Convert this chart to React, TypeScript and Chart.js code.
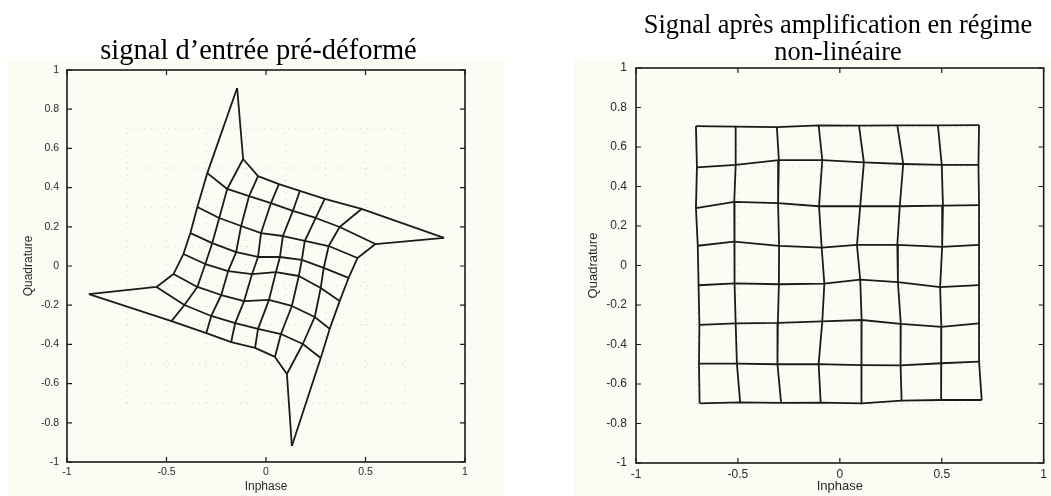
import { useEffect, useRef } from "react";
import { Chart, registerables } from "chart.js";

Chart.register(...registerables);

// Levels of the ideal 8x8 constellation grid (I and Q)
const idealLevels = [-0.7, -0.5, -0.3, -0.1, 0.1, 0.3, 0.5, 0.7];

// Pre-distorted input grid, node [row][col]: row 0 is Q = 0.7, col 0 is I = -0.7
const preDistI = [
  [-0.145, -0.115, -0.04, 0.065, 0.17, 0.295, 0.48, 0.895],
  [-0.295, -0.195, -0.085, 0.025, 0.135, 0.25, 0.37, 0.55],
  [-0.345, -0.235, -0.125, -0.025, 0.085, 0.195, 0.315, 0.46],
  [-0.38, -0.27, -0.15, -0.04, 0.07, 0.18, 0.29, 0.415],
  [-0.415, -0.305, -0.19, -0.07, 0.05, 0.165, 0.275, 0.37],
  [-0.465, -0.345, -0.225, -0.11, 0.015, 0.13, 0.245, 0.32],
  [-0.55, -0.41, -0.275, -0.155, -0.04, 0.075, 0.185, 0.275],
  [-0.89, -0.475, -0.3, -0.175, -0.055, 0.045, 0.105, 0.13],
];
const preDistQ = [
  [0.908, 0.546, 0.459, 0.418, 0.383, 0.342, 0.291, 0.143],
  [0.474, 0.393, 0.357, 0.321, 0.281, 0.245, 0.199, 0.112],
  [0.301, 0.245, 0.204, 0.168, 0.153, 0.128, 0.102, 0.041],
  [0.168, 0.117, 0.071, 0.046, 0.046, 0.031, -0.01, -0.061],
  [0.061, 0.01, -0.026, -0.041, -0.031, -0.051, -0.112, -0.179],
  [-0.041, -0.107, -0.148, -0.179, -0.173, -0.204, -0.26, -0.321],
  [-0.107, -0.199, -0.255, -0.291, -0.321, -0.347, -0.398, -0.469],
  [-0.143, -0.281, -0.342, -0.388, -0.418, -0.464, -0.551, -0.918],
];

// Grid measured at the amplifier output (non-linear regime)
const ampI = [
  [-0.706, -0.511, -0.309, -0.104, 0.094, 0.282, 0.481, 0.683],
  [-0.701, -0.511, -0.299, -0.086, 0.118, 0.311, 0.5, 0.68],
  [-0.706, -0.518, -0.303, -0.102, 0.1, 0.294, 0.506, 0.683],
  [-0.697, -0.518, -0.298, -0.089, 0.084, 0.282, 0.502, 0.683],
  [-0.693, -0.515, -0.299, -0.076, 0.1, 0.285, 0.492, 0.683],
  [-0.689, -0.511, -0.304, -0.086, 0.107, 0.299, 0.498, 0.683],
  [-0.691, -0.505, -0.306, -0.104, 0.104, 0.298, 0.497, 0.683],
  [-0.688, -0.489, -0.288, -0.094, 0.108, 0.303, 0.497, 0.696],
];
const ampQ = [
  [0.706, 0.703, 0.701, 0.71, 0.708, 0.71, 0.71, 0.711],
  [0.497, 0.509, 0.534, 0.534, 0.522, 0.514, 0.509, 0.509],
  [0.291, 0.322, 0.316, 0.3, 0.3, 0.3, 0.303, 0.306],
  [0.1, 0.121, 0.099, 0.09, 0.104, 0.104, 0.094, 0.104],
  [-0.1, -0.09, -0.095, -0.092, -0.072, -0.084, -0.109, -0.099],
  [-0.301, -0.293, -0.291, -0.283, -0.276, -0.296, -0.311, -0.293],
  [-0.497, -0.497, -0.5, -0.499, -0.504, -0.506, -0.495, -0.487],
  [-0.698, -0.693, -0.696, -0.694, -0.698, -0.684, -0.681, -0.681],
];

const INK = "#1b1b1b";
const LABEL = "#2a2a2a";

type Pt = { x: number; y: number };

function solidLine(data: Pt[]) {
  return {
    data,
    showLine: true,
    borderColor: INK,
    borderWidth: 1.8,
    pointRadius: 0,
    fill: false,
    order: 1,
  };
}

function dottedLine(data: Pt[]) {
  return {
    data,
    showLine: true,
    borderColor: "rgba(0,0,0,0.18)",
    borderWidth: 1,
    borderDash: [1, 5],
    pointRadius: 0,
    fill: false,
    order: 2,
  };
}

// Rows and columns of a mesh, plus the faint dotted reference grid underneath
function meshDatasets(I: number[][], Q: number[][]) {
  const sets: any[] = [];
  const lo = idealLevels[0];
  const hi = idealLevels[idealLevels.length - 1];
  idealLevels.forEach((v) => {
    sets.push(dottedLine([{ x: lo, y: v }, { x: hi, y: v }]));
    sets.push(dottedLine([{ x: v, y: lo }, { x: v, y: hi }]));
  });
  for (let r = 0; r < I.length; r++) {
    sets.push(solidLine(I[r].map((x, c) => ({ x, y: Q[r][c] }))));
  }
  for (let c = 0; c < I[0].length; c++) {
    sets.push(solidLine(I.map((row, r) => ({ x: row[c], y: Q[r][c] }))));
  }
  return sets;
}

// Box around the plot area with inward tick marks on all four sides
const boxFrame = {
  id: "boxFrame",
  afterDatasetsDraw(chart: any) {
    const { ctx, chartArea, scales } = chart;
    const { left, right, top, bottom } = chartArea;
    const len = 5;
    ctx.save();
    ctx.strokeStyle = INK;
    ctx.lineWidth = 1.6;
    ctx.strokeRect(left, top, right - left, bottom - top);
    ctx.lineWidth = 1.2;
    ctx.beginPath();
    scales.x.ticks.forEach((t: any) => {
      const px = scales.x.getPixelForValue(t.value);
      ctx.moveTo(px, bottom);
      ctx.lineTo(px, bottom - len);
      ctx.moveTo(px, top);
      ctx.lineTo(px, top + len);
    });
    scales.y.ticks.forEach((t: any) => {
      const py = scales.y.getPixelForValue(t.value);
      ctx.moveTo(left, py);
      ctx.lineTo(left + len, py);
      ctx.moveTo(right, py);
      ctx.lineTo(right - len, py);
    });
    ctx.stroke();
    ctx.restore();
  },
};

// Plain numbers: 1, 0.8, 0, -0.5 ...
const plainTick = (v: number | string) => String(Math.round(Number(v) * 100) / 100);

type PanelProps = {
  I: number[][];
  Q: number[][];
  width: number;
  height: number;
  padding: { top: number; right: number; bottom: number; left: number };
  yAxisWidth: number;
  xAxisHeight: number;
  tickSize: number;
  titleSize: number;
  yTitleOffset: number;
  yTickPad: number;
};

function MeshPanel(p: PanelProps) {
  const ref = useRef<HTMLCanvasElement | null>(null);
  useEffect(() => {
    if (!ref.current) return;
    const tickFont = { family: "'Liberation Sans', Arial, sans-serif", size: p.tickSize };
    const titleFont = { family: "'Liberation Sans', Arial, sans-serif", size: p.titleSize };
    const chart = new Chart(ref.current, {
      type: "scatter",
      data: { datasets: meshDatasets(p.I, p.Q) },
      options: {
        animation: false,
        responsive: false,
        devicePixelRatio: 1,
        layout: { padding: p.padding },
        plugins: { legend: { display: false }, tooltip: { enabled: false } },
        elements: { line: { tension: 0, borderJoinStyle: "round" as const } },
        scales: {
          x: {
            type: "linear",
            min: -1,
            max: 1,
            ticks: { stepSize: 0.5, font: tickFont, color: LABEL, padding: 4, maxRotation: 0, callback: plainTick },
            grid: { display: false, drawTicks: false },
            border: { display: false },
            title: { display: true, text: "Inphase", font: titleFont, color: LABEL, padding: { top: 0, bottom: 2 } },
            afterFit: (s: any) => {
              s.height = p.xAxisHeight;
            },
          },
          y: {
            type: "linear",
            min: -1,
            max: 1,
            ticks: { stepSize: 0.2, font: tickFont, color: LABEL, padding: p.yTickPad, callback: plainTick },
            grid: { display: false, drawTicks: false },
            border: { display: false },
            title: { display: true, text: "Quadrature", font: titleFont, color: LABEL, padding: { top: p.yTitleOffset, bottom: 0 } },
            afterFit: (s: any) => {
              s.width = p.yAxisWidth;
            },
          },
        },
      },
      plugins: [boxFrame],
    } as any);
    return () => chart.destroy();
  }, []);
  return <canvas ref={ref} width={p.width} height={p.height} style={{ display: "block", width: p.width, height: p.height }} />;
}

const serifTitle: React.CSSProperties = {
  position: "absolute",
  fontFamily: "'Liberation Serif', 'Times New Roman', serif",
  color: "#000",
  textAlign: "center",
  whiteSpace: "nowrap",
};

export default function App() {
  return (
    <div style={{ position: "absolute", left: 0, top: 0, width: 1051, height: 496, background: "#fff", overflow: "hidden" }}>
      <div style={{ position: "absolute", left: 7, top: 58, width: 496, height: 438, background: "#fcfcf5" }} />
      <div style={{ position: "absolute", left: 574, top: 58, width: 477, height: 438, background: "#fcfcf5" }} />
      <div style={{ position: "absolute", left: 0, top: 0 }}>
        <MeshPanel
          I={preDistI}
          Q={preDistQ}
          width={525}
          height={496}
          padding={{ top: 70, right: 60, bottom: 0, left: 0 }}
          yAxisWidth={67}
          xAxisHeight={34}
          tickSize={10.5}
          titleSize={12}
          yTitleOffset={21}
          yTickPad={8}
        />
      </div>
      <div style={{ position: "absolute", left: 526, top: 0 }}>
        <MeshPanel
          I={ampI}
          Q={ampQ}
          width={525}
          height={496}
          padding={{ top: 68, right: 3, bottom: 0, left: 0 }}
          yAxisWidth={110}
          xAxisHeight={33}
          tickSize={12}
          titleSize={13}
          yTitleOffset={60}
          yTickPad={9}
        />
      </div>
      <div style={{ ...serifTitle, left: 0, width: 517, top: 35, fontSize: 28.5, lineHeight: "29px" }}>
        signal d’entrée pré-déformé
      </div>
      <div style={{ ...serifTitle, left: 538, width: 600, top: 11, fontSize: 26.4, lineHeight: "27px" }}>
        Signal après amplification en régime
        <br />
        non-linéaire
      </div>
    </div>
  );
}
